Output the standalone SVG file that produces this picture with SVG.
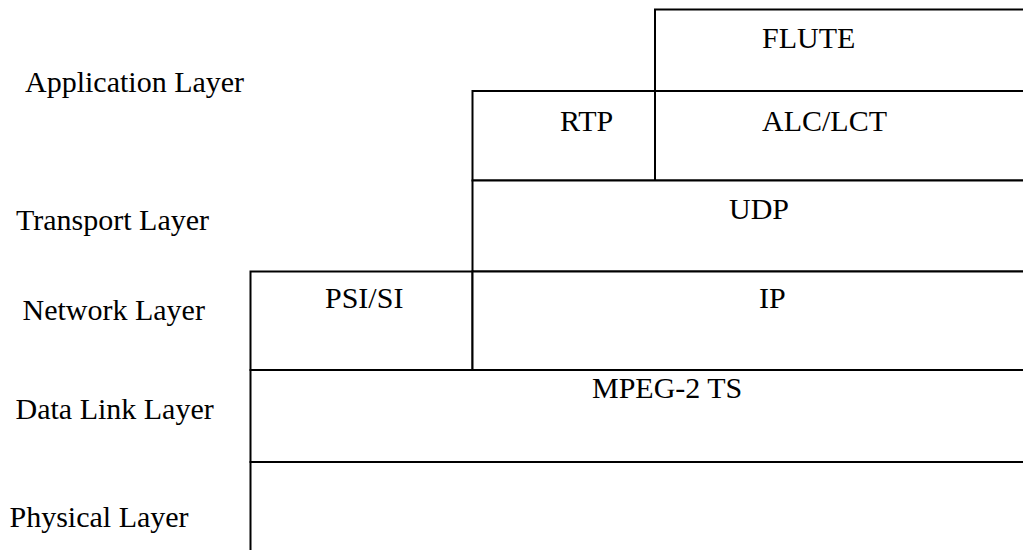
<svg xmlns="http://www.w3.org/2000/svg" width="1023" height="550" viewBox="0 0 1023 550">
  <style>
    .box { fill: #ffffff; stroke: #000000; stroke-width: 2; }
    .lbl { font-family: 'Liberation Serif', Tinos, 'Times New Roman', Times, 'DejaVu Serif', serif; font-size: 30px; fill: #000000; }
  </style>
  <rect x="0" y="0" width="1023" height="550" fill="#ffffff"/>

  <!-- protocol stack blocks (right edges run past the canvas) -->
  <g id="flute">
    <rect class="box" x="655" y="9.5" width="420" height="81.5"/>
    <text class="lbl" x="762" y="47.5">FLUTE</text>
  </g>
  <g id="rtp">
    <rect class="box" x="472.5" y="91" width="182.5" height="89.5"/>
    <text class="lbl" x="560" y="131">RTP</text>
  </g>
  <g id="alc-lct">
    <rect class="box" x="655" y="91" width="420" height="89.5"/>
    <text class="lbl" x="762" y="131">ALC/LCT</text>
  </g>
  <g id="udp">
    <rect class="box" x="472.5" y="180.5" width="600" height="91"/>
    <text class="lbl" x="729" y="218.5">UDP</text>
  </g>
  <g id="psi-si">
    <rect class="box" x="250.5" y="271.5" width="222" height="98.5"/>
    <text class="lbl" x="325" y="308">PSI/SI</text>
  </g>
  <g id="ip">
    <rect class="box" x="472.5" y="271.5" width="600" height="98.5"/>
    <text class="lbl" x="759" y="308">IP</text>
  </g>
  <g id="mpeg2-ts">
    <rect class="box" x="250.5" y="370" width="820" height="92"/>
    <text class="lbl" x="592" y="398">MPEG-2 TS</text>
  </g>
  <g id="physical">
    <rect class="box" x="250.5" y="462" width="820" height="120"/>
  </g>

  <!-- layer names on the left -->
  <g id="layer-names">
    <text class="lbl" x="25" y="92">Application Layer</text>
    <text class="lbl" x="16" y="230">Transport Layer</text>
    <text class="lbl" x="22.5" y="320">Network Layer</text>
    <text class="lbl" x="15.5" y="419">Data Link Layer</text>
    <text class="lbl" x="9.5" y="527">Physical Layer</text>
  </g>
</svg>
